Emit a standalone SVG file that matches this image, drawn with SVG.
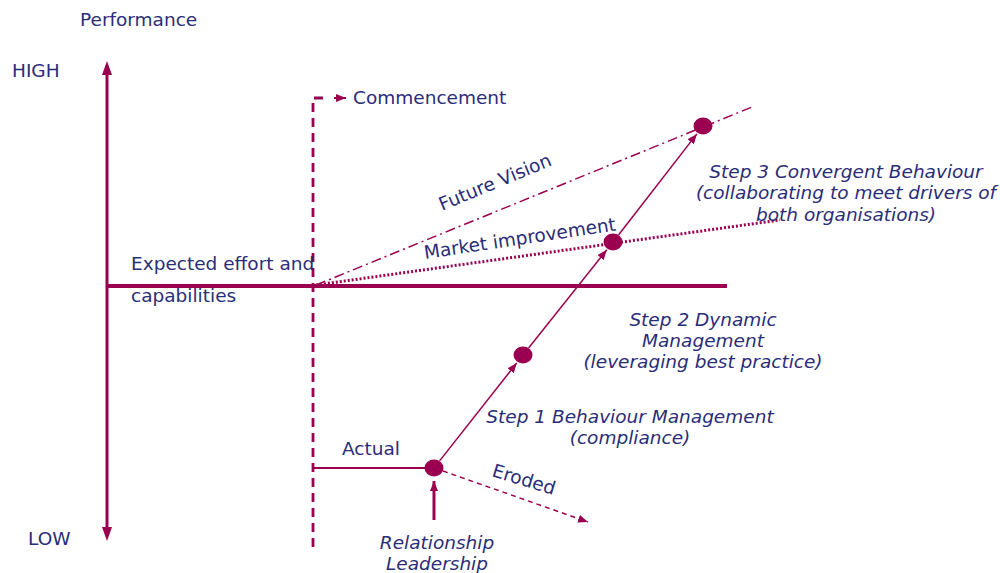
<svg xmlns="http://www.w3.org/2000/svg" width="1000" height="573" viewBox="0 0 1000 573">
<style>
.t{font-family:"DejaVu Sans",Verdana,sans-serif;font-size:18.5px;fill:#2a2d78}
.i{font-style:italic;text-anchor:middle}
.ln{stroke:#9b0050;fill:none}
.dot{fill:#9b0050}
</style>
<defs>
<marker id="as" viewBox="0 0 10 8" refX="10" refY="4" markerWidth="10" markerHeight="8" markerUnits="userSpaceOnUse" orient="auto"><path d="M0,0L10,4L0,8z" fill="#9b0050"/></marker>
</defs>
<rect width="1000" height="573" fill="#fff"/>
<g id="axes">
<line class="ln" x1="107" y1="530" x2="107" y2="74" stroke-width="3"/>
<path d="M107,61L102,75H112z" class="dot"/>
<path d="M107,541L102,527H112z" class="dot"/>
<line class="ln" x1="107" y1="286" x2="727" y2="286" stroke-width="4"/>
</g>
<g id="connectors">
<path class="ln" d="M313,547V98H326" stroke-width="2.8" stroke-dasharray="9,6"/>
<line class="ln" x1="334" y1="98" x2="346" y2="98" stroke-width="2" marker-end="url(#as)"/>
<line class="ln" x1="316" y1="285" x2="752" y2="107" stroke-width="1.5" stroke-dasharray="10,4,2,4"/>
<line class="ln" x1="316" y1="285" x2="780" y2="220" stroke-width="3" stroke-dasharray="2,2"/>
<line class="ln" x1="313" y1="468" x2="434" y2="468" stroke-width="2"/>
<line class="ln" x1="439.6" y1="460.9" x2="516.8" y2="362.9" stroke-width="1.5" marker-end="url(#as)"/>
<line class="ln" x1="528.6" y1="348" x2="606.8" y2="249.8" stroke-width="1.5" marker-end="url(#as)"/>
<line class="ln" x1="618.5" y1="235" x2="696.9" y2="133.9" stroke-width="1.5" marker-end="url(#as)"/>
<line class="ln" x1="443" y1="471" x2="588" y2="522" stroke-width="1.5" stroke-dasharray="5,4" marker-end="url(#as)"/>
<line class="ln" x1="434" y1="520" x2="434" y2="481" stroke-width="3" marker-end="url(#as)"/>
</g>
<g id="dot1"><ellipse class="dot" cx="434" cy="468" rx="9.5" ry="8.5"/></g>
<g id="dot2"><ellipse class="dot" cx="523" cy="355" rx="9.5" ry="8.5"/></g>
<g id="dot3"><ellipse class="dot" cx="613" cy="242" rx="9.5" ry="8.5"/></g>
<g id="dot4"><ellipse class="dot" cx="703" cy="126" rx="9.5" ry="8.5"/></g>
<g id="labels">
<text class="t" x="80" y="26">Performance</text>
<text class="t" x="12" y="77">HIGH</text>
<text class="t" x="28" y="545">LOW</text>
<text class="t" x="353" y="104">Commencement</text>
<text class="t" x="131" y="270">Expected effort and</text>
<text class="t" x="131" y="302">capabilities</text>
<text class="t" transform="translate(442,211) rotate(-22.5)">Future Vision</text>
<text class="t" transform="translate(425,259) rotate(-8.5)">Market improvement</text>
<text class="t" x="342" y="455">Actual</text>
<text class="t" transform="translate(491,476) rotate(17)">Eroded</text>
<text class="t i" x="846" y="178">Step 3 Convergent Behaviour</text>
<text class="t i" x="846" y="199">(collaborating to meet drivers of</text>
<text class="t i" x="846" y="221">both organisations)</text>
<text class="t i" x="703" y="326">Step 2 Dynamic</text>
<text class="t i" x="703" y="347">Management</text>
<text class="t i" x="703" y="368">(leveraging best practice)</text>
<text class="t i" x="630" y="423">Step 1 Behaviour Management</text>
<text class="t i" x="630" y="444">(compliance)</text>
<text class="t i" x="437" y="549">Relationship</text>
<text class="t i" x="437" y="570">Leadership</text>
</g>
</svg>
